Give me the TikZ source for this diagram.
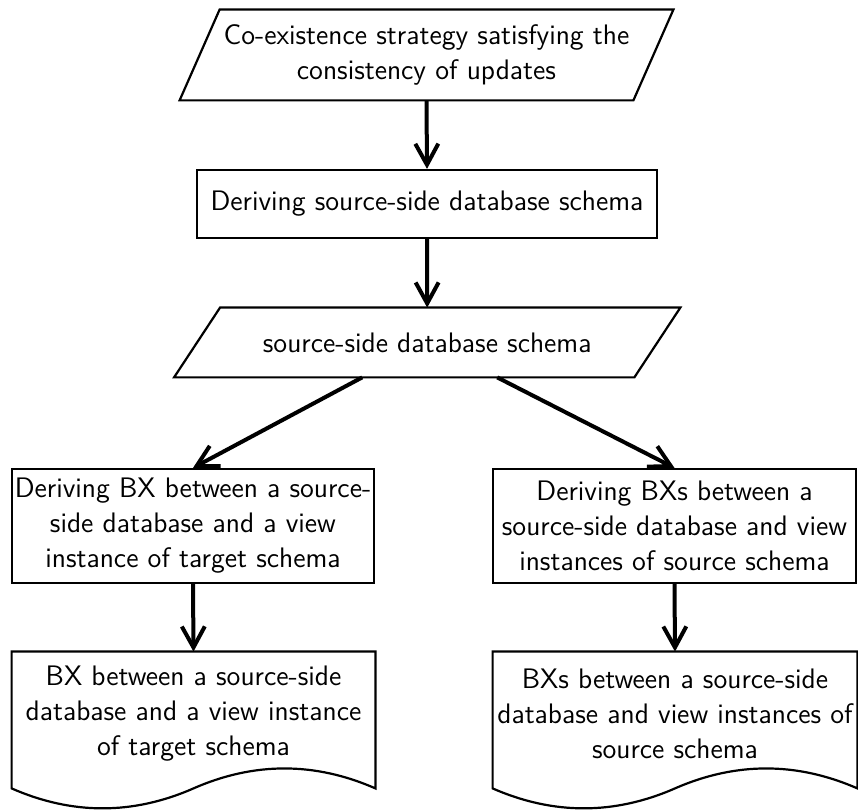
\documentclass[tikz,border=0pt]{standalone}
\usepackage{fontspec}
\usetikzlibrary{arrows.meta,calc}

\begin{document}
\begin{tikzpicture}[x=1pt, y=-1pt,
  font=\fontsize{14.1}{17.5}\selectfont\sffamily,
  every node/.style={align=center, inner sep=0pt},
  outline/.style={draw, line width=1.1pt, line join=miter},
  flow/.style={line width=2pt, -{Straight Barb[length=10.5pt,width=11.5pt]}}]
  \useasboundingbox (0,0) rectangle (429,406);

  % data and process blocks
  \node[minimum width=226.5pt, minimum height=45pt] (coex) at (213.25,27.5)
    {Co-existence strategy satisfying the\\consistency of updates};
  \node[outline, minimum width=230pt, minimum height=34pt] (derive) at (213.5,102)
    {Deriving source-side database schema};
  \node[minimum width=229.75pt, minimum height=34.5pt] (ssds) at (213.6,171.25)
    {source-side database schema};
  \node[outline, minimum width=181pt, minimum height=57pt] (dbx) at (96.5,263)
    {Deriving BX between a source-\\side database and a view\\instance of target schema};
  \node[outline, minimum width=181.5pt, minimum height=57pt] (dbxs) at (337.25,263)
    {Deriving BXs between a\\source-side database and view\\instances of source schema};
  \node[minimum width=181.5pt, minimum height=62pt] (lbx) at (96.75,357)
    {BX between a source-side\\database and a view instance\\of target schema};
  \node[minimum width=182pt, minimum height=62pt] (rbx) at (337.5,357)
    {BXs between a source-side\\database and view instances of\\source schema};

  % parallelograms
  \foreach \shp/\s in {coex/10, ssds/11.5}
    \draw[outline] ([xshift=-\s pt]\shp.south west) -- ([xshift=-\s pt]\shp.south east)
      -- ([xshift=\s pt]\shp.north east) -- ([xshift=\s pt]\shp.north west) -- cycle;

  % documents
  \foreach \doc in {lbx, rbx}
    \draw[outline] let \p1=(\doc.north west), \p2=(\doc.south east),
      \n1={(\x2-\x1)/6} in
      (\p1) -- (\x2,\y1) -- (\x2,\y2-6pt)
      .. controls (\x2-\n1*1pt,\y2+7.3pt) and (\x2-2*\n1*1pt,\y2+7.3pt) .. (\x2-3*\n1*1pt,\y2-6pt)
      .. controls (\x2-4*\n1*1pt,\y2-19.3pt) and (\x2-5*\n1*1pt,\y2-19.3pt) .. (\x1,\y2-6pt)
      -- cycle;

  % connectors
  \draw[flow] (coex.south) -- (derive.north);
  \draw[flow] (derive.south) -- (ssds.north);
  \draw[flow] ([xshift=-32.5pt]ssds.south) -- (dbx.north);
  \draw[flow] ([xshift=35pt]ssds.south) -- (dbxs.north);
  \draw[flow] (dbx.south) -- (lbx.north);
  \draw[flow] (dbxs.south) -- (rbx.north);
\end{tikzpicture}
\end{document}
